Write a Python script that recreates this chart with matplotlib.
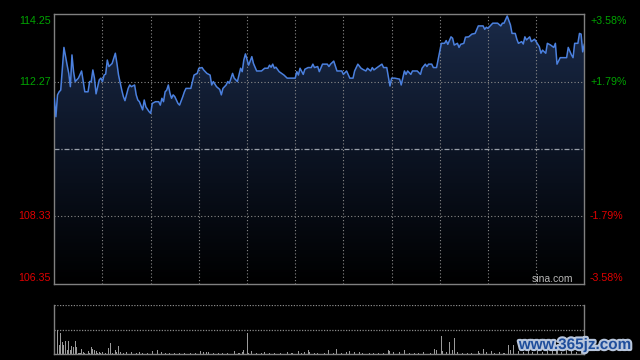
import matplotlib
matplotlib.use('Agg')
import matplotlib.pyplot as plt
import numpy as np
from matplotlib.colors import LinearSegmentedColormap
from matplotlib.patches import Polygon
import matplotlib.transforms as mtransforms
import matplotlib.patheffects as pe

# ---------------- data ----------------
prev_close = 110.30
price_ticks = [114.25, 112.27, 108.33, 106.35]
price_labels = ['114.25', '112.27', '108.33', '106.35']
pct_labels = ['+3.58%', '+1.79%', '-1.79%', '-3.58%']

times = [0, 1, 2, 3, 4, 6, 8, 9, 10, 11, 12, 13, 15, 17, 19, 21, 22, 23, 24, 25, 26, 28, 29, 30, 31, 32,
         33, 34, 36, 38, 39, 40, 42, 43, 44, 46, 47, 48, 50, 51, 52, 53, 55, 56, 57, 59, 60, 61, 63, 65,
         66, 67, 68, 69, 70, 71, 72, 73, 74, 75, 77, 78, 80, 81, 82, 85, 87, 89, 90, 92, 93, 95, 97, 98,
         99, 101, 103, 104, 105, 107, 108, 109, 111, 112, 114, 116, 117, 118, 119, 120, 121, 123, 124,
         126, 129, 131, 133, 134, 135, 136, 137, 138, 140, 143, 145, 150, 151, 152, 153, 155, 156, 158,
         160, 161, 162, 164, 165, 167, 170, 171, 172, 174, 176, 179, 180, 182, 184, 186, 187, 189, 191,
         192, 194, 195, 197, 198, 199, 201, 204, 205, 207, 209, 210, 212, 215, 216, 218, 219, 220, 222,
         223, 226, 228, 229, 231, 232, 233, 235, 236, 238, 241, 243, 244, 245, 247, 248, 249, 251, 252,
         253, 255, 256, 258, 260, 262, 264, 267, 268, 269, 270, 273, 276, 278, 279, 280, 282, 284, 285,
         287, 288, 289, 291, 292, 293, 294, 296, 297, 299, 300, 302, 303, 304, 306, 307, 309, 311, 312,
         313, 315, 319, 320, 322, 323, 324, 326, 327, 328, 329, 330]
prices = [111.79, 111.25, 111.89, 111.98, 112.03, 113.28, 112.76, 112.52, 112.13, 113.06, 112.57, 112.28,
          112.38, 112.59, 111.98, 111.98, 112.28, 112.28, 112.62, 112.38, 111.92, 112.33, 112.38, 112.28,
          112.47, 112.50, 112.91, 112.72, 112.81, 113.11, 112.81, 112.47, 112.03, 111.84, 111.72, 112.08,
          112.18, 112.13, 112.18, 111.89, 111.74, 111.69, 111.45, 111.74, 111.54, 111.40, 111.35, 111.64,
          111.69, 111.69, 111.59, 111.79, 111.69, 111.98, 112.03, 112.18, 111.94, 111.79, 111.89, 111.84,
          111.64, 111.59, 111.84, 111.98, 112.08, 112.08, 112.47, 112.52, 112.67, 112.69, 112.62, 112.52,
          112.47, 112.18, 112.28, 112.13, 112.05, 111.89, 112.08, 112.18, 112.28, 112.23, 112.52, 112.38,
          112.28, 112.67, 112.57, 112.91, 113.09, 112.93, 112.76, 113.01, 112.81, 112.59, 112.59, 112.67,
          112.67, 112.76, 112.70, 112.79, 112.67, 112.70, 112.57, 112.47, 112.38, 112.38, 112.57, 112.47,
          112.67, 112.49, 112.64, 112.69, 112.69, 112.79, 112.69, 112.72, 112.57, 112.79, 112.79, 112.72,
          112.79, 112.88, 112.59, 112.59, 112.49, 112.59, 112.38, 112.38, 112.59, 112.79, 112.67, 112.64,
          112.59, 112.67, 112.59, 112.69, 112.62, 112.69, 112.79, 112.69, 112.69, 112.15, 112.38, 112.38,
          112.35, 112.18, 112.59, 112.49, 112.59, 112.49, 112.59, 112.59, 112.49, 112.67, 112.79, 112.72,
          112.79, 112.79, 112.69, 112.69, 113.40, 113.40, 113.48, 113.37, 113.59, 113.55, 113.35, 113.40,
          113.28, 113.37, 113.40, 113.58, 113.59, 113.67, 113.69, 113.91, 113.91, 113.81, 113.87, 113.84,
          113.99, 113.99, 113.91, 113.99, 113.99, 114.20, 113.94, 113.69, 113.69, 113.52, 113.40, 113.45,
          113.38, 113.59, 113.50, 113.59, 113.45, 113.52, 113.45, 113.30, 113.11, 113.20, 113.11, 113.40,
          113.35, 113.28, 113.40, 112.79, 112.98, 112.98, 113.28, 113.06, 112.98, 113.40, 113.40, 113.69,
          113.67, 113.15, 113.37]

vol_times = [0, 2, 3, 4, 5, 6, 7, 8, 9, 10, 11, 12, 13, 14, 15, 16, 17, 18, 19, 21, 22, 23, 24, 25, 26,
             27, 28, 29, 30, 32, 34, 35, 36, 38, 39, 40, 41, 43, 45, 48, 51, 53, 55, 58, 61, 64, 67, 69,
             72, 75, 78, 81, 85, 88, 91, 93, 95, 96, 99, 102, 105, 108, 112, 115, 117, 118, 120, 121,
             123, 126, 129, 131, 134, 137, 141, 145, 148, 152, 154, 156, 158, 159, 162, 164, 168, 171,
             174, 176, 179, 182, 184, 187, 190, 192, 196, 199, 202, 205, 208, 209, 211, 215, 218, 221,
             224, 227, 230, 234, 237, 238, 241, 242, 244, 246, 248, 249, 251, 254, 257, 260, 264, 265,
             267, 269, 272, 274, 277, 280, 283, 284, 286, 289, 292, 295, 298, 301, 304, 307, 310, 313,
             316, 319, 322, 325, 328, 330]
volumes = [15, 25, 9.3, 21, 12.3, 9.3, 13.3, 4.3, 13.3, 4.3, 8.3, 7.6, 13.3, 7, 1.6, 1.6, 5, 2.6, 1.6,
           3.3, 1.6, 7, 5, 4.3, 3.6, 1.6, 2.3, 1, 2, 1, 6, 11, 1.6, 4.3, 2.3, 8.3, 2.3, 1.6, 2.3, 2,
           1.6, 2, 1.6, 1.6, 3, 4.3, 2.3, 1, 1, 1, 1, 1, 1, 1.3, 3, 2, 2, 2, 1.5, 1.3, 1.5, 1, 3.3, 1,
           2, 4.3, 21.6, 1, 3, 1, 1.5, 2, 1.5, 1, 1.5, 2.3, 1, 3.3, 1, 2, 4.3, 2, 1, 1.5, 1.6, 4.3,
           1.6, 5, 1.3, 2, 3.6, 2.3, 2, 1.3, 1, 1.3, 1.3, 1.6, 4.3, 3, 2, 2, 4.3, 1, 1.3, 1, 2, 1.3,
           5, 4, 18.3, 3, 2, 12.3, 4, 16, 2, 1.3, 1.3, 1.6, 3.3, 1.5, 5, 2, 3.3, 1.3, 2, 1.3, 9.3, 4.3,
           9.3, 3, 2, 4, 2, 3, 2, 3, 5, 3, 2, 4, 3, 2, 6, 4]

# ---------------- figure ----------------
W, H = 640, 360
fig = plt.figure(figsize=(6.4, 3.6), dpi=100, facecolor='black')
font = ['Liberation Sans', 'DejaVu Sans']

x0, x1 = 54.3, 584.3
y0, y1 = 14.3, 284.0
ax = fig.add_axes([x0 / W, 1 - y1 / H, (x1 - x0) / W, (y1 - y0) / H])
ax.set_facecolor('black')
t_end = 330
ymin, ymax = price_ticks[-1], price_ticks[0]
ax.set_xlim(0, t_end)
ax.set_ylim(ymin, ymax)

# gradient fill under the line
verts = [(times[0], ymin)] + list(zip(times, prices)) + [(times[-1], ymin)]
poly = Polygon(verts, closed=True, facecolor='none', edgecolor='none', transform=ax.transData)
ax.add_patch(poly)
grad = np.linspace(0, 1, 256).reshape(-1, 1)
cmap = LinearSegmentedColormap.from_list('g', ['#000000', '#0c1424', '#1a2a48'])
im = ax.imshow(grad, extent=[0, t_end, ymin, ymax], origin='lower', aspect='auto',
               cmap=cmap, zorder=1, interpolation='bilinear')
im.set_clip_path(poly)

# grid
grid_c = '#8a8a8a'
for t in range(30, t_end, 30):
    ax.axvline(t, color=grid_c, lw=0.8, ls=(0, (1, 2)), zorder=2)
for v in price_ticks[1:3]:
    ax.axhline(v, color=grid_c, lw=0.8, ls=(0, (1, 2)), zorder=2)
ax.axhline(prev_close, color='#9aa0aa', lw=0.9, ls=(0, (4, 1.5, 1, 1.5)), zorder=2)

ax.plot(times, prices, color='#4b80de', lw=1.1, zorder=3)

for s in ax.spines.values():
    s.set_color('#808080')
    s.set_linewidth(1.0)
ax.set_xticks([])
ax.set_yticks([])

green, red = '#00a400', '#e00000'
blend_l = mtransforms.blended_transform_factory(ax.transAxes, ax.transData)
offsets = [-6.4, 0, 0, 6.0]
for v, lab, pct, off in zip(price_ticks, price_labels, pct_labels, offsets):
    c = green if v > prev_close else red
    tl = mtransforms.offset_copy(blend_l, fig=fig, x=-3.3, y=off, units='dots')
    ax.text(0, v, lab, transform=tl, ha='right', va='center', color=c, fontsize=7.7, family=font)
    tr = mtransforms.offset_copy(blend_l, fig=fig, x=5.7, y=off, units='dots')
    ax.text(1, v, pct, transform=tr, ha='left', va='center', color=c, fontsize=7.7, family=font)

fig.text(531.7 / W, 1 - 279.5 / H, 'sina.com', ha='left', va='center', color='#b8b8b8',
         fontsize=7.5, family=font)

# ---------------- volume panel ----------------
vy0, vy1 = 304.7, 354.3
axv = fig.add_axes([x0 / W, 1 - vy1 / H, (x1 - x0) / W, (vy1 - vy0) / H])
axv.set_facecolor('black')
axv.set_xlim(0, t_end)
vtop = 2 * max(volumes)
axv.set_ylim(0, vtop)
axv.bar(vol_times, volumes, width=0.65, color='#9a9a9a', linewidth=0, zorder=2)
axv.axhline(vtop / 2, color=grid_c, lw=0.9, ls=(0, (1, 1.2)), zorder=1)
axv.axhline(vtop * 0.995, color=grid_c, lw=0.9, ls=(0, (1, 1.2)), zorder=1)
axv.spines['top'].set_visible(False)
for k in ('left', 'right', 'bottom'):
    axv.spines[k].set_color('#808080')
    axv.spines[k].set_linewidth(1.0)
axv.set_xticks([])
axv.set_yticks([])

# watermark seen on the reference
fig.text(575 / W, 1 - 345 / H, 'www.365jz.com', ha='center', va='center', color='#1f4e9c',
         fontsize=11, fontweight='bold', family=font,
         path_effects=[pe.withStroke(linewidth=3, foreground='#b8c6dc')])

fig.savefig('out.png', dpi=100, facecolor='black')
